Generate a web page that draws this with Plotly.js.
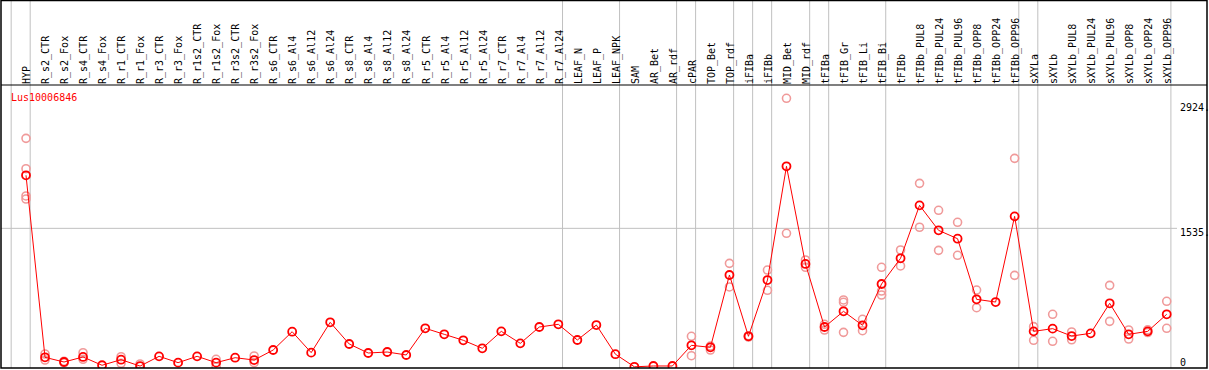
<!DOCTYPE html>
<html>
<head>
<meta charset="utf-8">
<script src="https://cdn.plot.ly/plotly-3.0.1.min.js"></script>
<style>html,body{margin:0;padding:0;background:#fff;}#chart{width:1209px;height:370px;}</style>
</head>
<body>
<div id="chart"></div>
<script>
var geneName = "Lus10006846";

var categories = ["HYP","R_s2_CTR","R_s2_Fox","R_s4_CTR","R_s4_Fox","R_r1_CTR","R_r1_Fox","R_r3_CTR","R_r3_Fox",
  "R_r1s2_CTR","R_r1s2_Fox","R_r3s2_CTR","R_r3s2_Fox","R_s6_CTR","R_s6_Al4","R_s6_Al12","R_s6_Al24",
  "R_s8_CTR","R_s8_Al4","R_s8_Al12","R_s8_Al24","R_r5_CTR","R_r5_Al4","R_r5_Al12","R_r5_Al24",
  "R_r7_CTR","R_r7_Al4","R_r7_Al12","R_r7_Al24","LEAF_N","LEAF_P","LEAF_NPK","SAM","AR_Bet","AR_rdf",
  "cPAR","TOP_Bet","TOP_rdf","iFIBa","iFIBb","MID_Bet","MID_rdf","tFIBa","tFIB_Gr","tFIB_Li","tFIB_Bi",
  "tFIBb","tFIBb_PUL8","tFIBb_PUL24","tFIBb_PUL96","tFIBb_OPP8","tFIBb_OPP24","tFIBb_OPP96",
  "sXYLa","sXYLb","sXYLb_PUL8","sXYLb_PUL24","sXYLb_PUL96","sXYLb_OPP8","sXYLb_OPP24","sXYLb_OPP96"];

var meanValues = [2123,105,53,109,17,79,8,116,46,116,46,101,75,186,389,157,493,253,153,164,131,427,360,294,205,
  393,260,441,471,297,463,140,0,9,9,238,216,1018,338,962,2223,1140,441,615,460,918,1203,1790,1513,1420,
  748,718,1668,393,423,341,371,704,360,393,582];

// replicate measurements: category index and value
var repIndex = [0,0,0,0, 1,1, 2,2, 3,3, 5,5, 6, 10,10, 12,12,
  35,35, 36,36, 37,37, 38,38, 39,39, 40,40, 41,41, 42,42, 43,43,43, 44,44, 45,45,45, 46,46,
  47,47, 48,48, 49,49, 50,50, 52,52, 53,53, 54,54, 55,55, 57,57, 58,58, 59,59, 60,60];
var repValues = [2533,2196,1894,1860, 142,75, 62,45, 156,83, 112,39, 31, 83,0, 120,46,
  338,123, 186,230, 1147,885, 345,330, 1073,848, 2977,1480, 1184,1103, 471,408, 741,715,382, 527,400, 1103,840,796, 1295,1118,
  2034,1547, 1735,1291, 1602,1236, 851,655, 2311,1014, 445,294, 582,283, 386,300, 903,504, 408,308, 410,380, 726,427];

var yTickValues = [0, 1535, 2924];
var yTickLabels = ["0", "1535.", "2924."];

// group separators (after these category indices)
var groupBreaks = [-1,0,28,31,34,35,37,38,39,41,42,45,52,53,60];

var idx = categories.map(function(_, i){ return i; });
var mono = "DejaVu Sans Mono, monospace";
var topPaper = 1 + 84.5/283;

var shapes = [];
groupBreaks.forEach(function(b){
  shapes.push({type:"line", xref:"x", yref:"paper", x0:b+0.22, x1:b+0.22, y0:0, y1:topPaper,
    line:{color:"#c0c0c0", width:1}, layer:"below"});
});
shapes.push({type:"line", xref:"paper", yref:"y", x0:0, x1:(1177-1)/1206, y0:1535, y1:1535,
  line:{color:"#c0c0c0", width:1}, layer:"below"});
shapes.push({type:"line", xref:"paper", yref:"paper", x0:0, x1:1, y0:1, y1:1, line:{color:"#000", width:1.2}});
shapes.push({type:"rect", xref:"paper", yref:"paper", x0:0, x1:1, y0:0, y1:topPaper, line:{color:"#000", width:1.5}});

var annotations = [{
  text: geneName, xref:"paper", yref:"paper", x:(9.7-1)/1206, y:(368-97.3)/283,
  xanchor:"left", yanchor:"middle", showarrow:false, font:{family:mono, size:10, color:"#ff0000"}, borderpad:0
}];
yTickValues.forEach(function(v, k){
  annotations.push({text:yTickLabels[k], xref:"paper", yref:"y", x:(1179-1)/1206, y:v,
    xanchor:"left", yanchor: v === 0 ? "bottom" : "top", showarrow:false, borderpad:0,
    yshift: v === 0 ? -2 : 2,
    font:{family:mono, size:10, color:"#000"}});
});

var traces = [
  {x: repIndex, y: repValues, type:"scatter", mode:"markers",
   marker:{symbol:"circle-open", size:8, color:"#f09a9a", line:{width:1.6, color:"#f09a9a"}}, hoverinfo:"skip"},
  {x: idx, y: meanValues, type:"scatter", mode:"lines+markers",
   line:{color:"#ff0000", width:1},
   marker:{symbol:"circle-open", size:8, color:"#ff0000", line:{width:1.8, color:"#ff0000"}}, hoverinfo:"skip"}
];

var layout = {
  width:1209, height:370,
  margin:{l:1, r:2, t:85, b:2, pad:0},
  paper_bgcolor:"#fff", plot_bgcolor:"#fff",
  showlegend:false,
  xaxis:{range:[-1.315, 62.119], side:"top", tickmode:"array", tickvals:idx, ticktext:categories,
    tickangle:-90, ticks:"", ticklabelshift:1, showgrid:false, zeroline:false, showline:false,
    tickfont:{family:mono, size:10, color:"#000"}, fixedrange:true},
  yaxis:{range:[-13.3, 3124.2], showticklabels:false, ticks:"", showgrid:false, zeroline:false, showline:false, fixedrange:true},
  shapes: shapes,
  annotations: annotations
};

Plotly.newPlot("chart", traces, layout, {staticPlot:true, displayModeBar:false});
</script>
</body>
</html>
